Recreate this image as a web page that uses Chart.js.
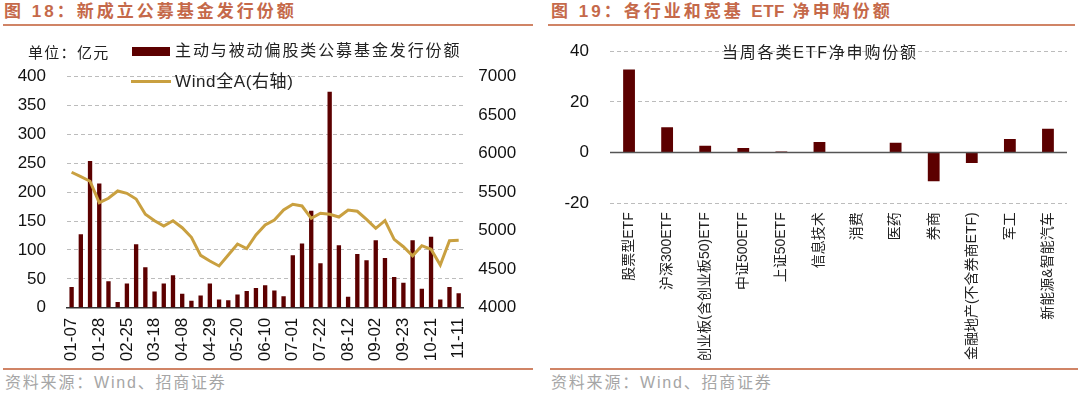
<!DOCTYPE html>
<html>
<head>
<meta charset="utf-8">
<script src="https://cdn.jsdelivr.net/npm/chart.js@4.4.1/dist/chart.umd.min.js"></script>
<style>
body{margin:0;background:#fff;font-family:'Liberation Sans','Noto Sans CJK SC',sans-serif;}
#page{position:relative;width:1080px;height:393px;overflow:hidden;background:#fff;}
.abs{position:absolute;white-space:nowrap;}
.title{font-size:17px;font-weight:bold;color:#C5694A;letter-spacing:3px;line-height:20px;}
.title span{letter-spacing:0.5px;}
.hline{position:absolute;height:1.5px;background:#D08466;}
.fline{position:absolute;height:2px;background:#D08466;}
.foot{font-size:16px;color:#a6a6a6;letter-spacing:1.8px;line-height:20px;}
.box{position:absolute;}
</style>
</head>
<body>
<div id="page">
  <div class="abs title" style="left:4px;top:2px;">图 18：新成立公募基金发行份额</div>
  <div class="hline" style="left:3px;top:24px;width:530px;"></div>
  <div class="abs title" style="left:551px;top:2px;">图 19：各行业和宽基 <span>ETF</span> 净申购份额</div>
  <div class="hline" style="left:548px;top:24px;width:527px;"></div>

  <div class="box" style="left:0;top:26px;width:535px;height:340px;"><canvas id="c1"></canvas></div>
  <div class="box" style="left:545px;top:20px;width:535px;height:340px;"><canvas id="c2"></canvas></div>

  <div class="abs" style="left:28px;top:43px;font-size:15px;letter-spacing:1.3px;line-height:20px;color:#222;">单位：亿元</div>
  <div class="abs" style="left:132px;top:47px;width:38px;height:9px;background:#5C0000;"></div>
  <div class="abs" style="left:175px;top:41px;font-size:16px;letter-spacing:1.9px;line-height:20px;color:#222;">主动与被动偏股类公募基金发行份额</div>
  <div class="abs" style="left:131px;top:80px;width:40px;height:3px;background:#C9A040;"></div>
  <div class="abs" style="left:175px;top:72px;font-size:17px;letter-spacing:0.6px;line-height:20px;color:#222;">Wind全A(右轴)</div>

  <div class="abs" style="left:722px;top:43px;font-size:16px;letter-spacing:1.8px;line-height:20px;color:#222;">当周各类ETF净申购份额</div>

  <div class="fline" style="left:3px;top:368px;width:530px;"></div>
  <div class="abs foot" style="left:5px;top:373px;">资料来源：Wind、招商证券</div>
  <div class="fline" style="left:550px;top:368px;width:528px;"></div>
  <div class="abs foot" style="left:551px;top:373px;">资料来源：Wind、招商证券</div>
</div>
<script>
// 图18 数据
var weeks = ["01-07","01-14","01-21","01-28","02-11","02-18","02-25","03-04","03-11","03-18","03-25","04-01","04-08","04-15","04-22","04-29","05-06","05-13","05-20","05-27","06-02","06-10","06-17","06-24","07-01","07-08","07-15","07-22","07-29","08-05","08-12","08-19","08-26","09-02","09-09","09-16","09-23","09-30","10-14","10-21","10-28","11-04","11-11"];
var fundIssue = [36,127,254,215,46,10,42,110,70,28,42,56,24,12,21,42,14,13,23,29,34,39,30,20,91,111,168,77,374,108,19,93,82,117,86,53,43,117,33,123,14,36,25];
var windA = [5759,5702,5642,5364,5421,5516,5486,5412,5213,5130,5061,5130,5039,4914,4680,4607,4542,4684,4827,4767,4944,5075,5139,5269,5343,5321,5161,5226,5213,5178,5269,5252,5148,5031,5130,4888,4792,4675,4805,4759,4555,4870,4875];
var leftTicks = [0,50,100,150,200,250,300,350,400];
var rightTicks = [4000,4500,5000,5500,6000,6500,7000];

// 图19 数据
var etfNames = ["股票型ETF","沪深300ETF","创业板(含创业板50)ETF","中证500ETF","上证50ETF","信息技术","消费","医药","券商","金融地产(不含券商ETF)","军工","新能源&智能汽车"];
var etfNet = [32.8,10.0,2.7,1.8,0.4,4.2,0.1,3.9,-11.3,-4.1,5.4,9.4];
var etfTicks = [-20,0,20,40];

var FONT = "'Liberation Sans','Noto Sans CJK SC',sans-serif";
var BAR = "#5C0000", GOLD = "#C9A040", GRID = "#bcbcbc";

function gridColor(c){ return (c.tick && c.tick.value === 0) ? "rgba(0,0,0,0)" : GRID; }

new Chart(document.getElementById("c1"), {
  type: "bar",
  data: {
    labels: weeks,
    datasets: [
      {type:"line", label:"Wind全A(右轴)", data:windA, yAxisID:"y1", borderColor:GOLD, borderWidth:3, pointRadius:0, tension:0, order:0},
      {label:"主动与被动偏股类公募基金发行份额", data:fundIssue, yAxisID:"y", backgroundColor:BAR, categoryPercentage:1, barPercentage:0.47, order:1}
    ]
  },
  options: {
    responsive:true, maintainAspectRatio:false, animation:false,
    layout:{padding:{top:50.7,left:0,right:0,bottom:0}},
    plugins:{legend:{display:false}, tooltip:{enabled:false}},
    scales:{
      x:{
        offset:true,
        grid:{display:false, drawTicks:false},
        border:{display:true, color:"#333", width:1.5},
        ticks:{autoSkip:false, minRotation:90, maxRotation:90, padding:10, color:"#111", font:{family:FONT, size:17},
          callback:function(v,i){ return i % 3 === 0 ? weeks[i] : ""; }},
        afterFit:function(s){ s.height = 58.3; }
      },
      y:{
        position:"left", min:leftTicks[0], max:leftTicks[leftTicks.length-1],
        afterBuildTicks:function(s){ s.ticks = leftTicks.map(function(v){return {value:v};}); },
        grid:{color:gridColor, lineWidth:1, drawTicks:false},
        border:{display:false, dash:[4,3]},
        ticks:{padding:21, color:"#111", font:{family:FONT, size:17}, callback:function(v){ return String(v); }},
        afterFit:function(s){ s.width = 67; }
      },
      y1:{
        position:"right", min:rightTicks[0], max:rightTicks[rightTicks.length-1],
        afterBuildTicks:function(s){ s.ticks = rightTicks.map(function(v){return {value:v};}); },
        grid:{display:false, drawTicks:false},
        border:{display:false},
        ticks:{padding:15, color:"#111", font:{family:FONT, size:17}, callback:function(v){ return String(v); }},
        afterFit:function(s){ s.width = 71.7; }
      }
    }
  }
});

new Chart(document.getElementById("c2"), {
  type: "bar",
  data: {
    labels: etfNames,
    datasets: [
      {label:"当周各类ETF净申购份额", data:etfNet, backgroundColor:BAR, categoryPercentage:1, barPercentage:0.31}
    ]
  },
  options: {
    responsive:true, maintainAspectRatio:false, animation:false,
    layout:{padding:{top:15.7,left:0,right:13,bottom:0}},
    plugins:{legend:{display:false}, tooltip:{enabled:false}},
    scales:{
      x:{
        grid:{display:false, drawTicks:false},
        border:{display:false},
        ticks:{autoSkip:false, minRotation:90, maxRotation:90, padding:9, color:"#222", font:{family:FONT, size:14}},
        afterFit:function(s){ s.height = 156.7; }
      },
      y:{
        min:etfTicks[0], max:etfTicks[etfTicks.length-1],
        afterBuildTicks:function(s){ s.ticks = etfTicks.map(function(v){return {value:v};}); },
        grid:{color:gridColor, lineWidth:1, drawTicks:false},
        border:{display:false, dash:[4,3]},
        ticks:{padding:21, color:"#111", font:{family:FONT, size:17}, callback:function(v){ return String(v); }},
        afterFit:function(s){ s.width = 65; }
      }
    }
  },
  plugins:[{id:"zeroLine", afterDatasetsDraw:function(chart){
    var ctx = chart.ctx, a = chart.chartArea, y = chart.scales.y.getPixelForValue(0);
    ctx.save();
    ctx.strokeStyle = "#555"; ctx.lineWidth = 1.5;
    ctx.beginPath(); ctx.moveTo(a.left, y); ctx.lineTo(a.right, y); ctx.stroke();
    ctx.restore();
  }}]
});
</script>
</body>
</html>
